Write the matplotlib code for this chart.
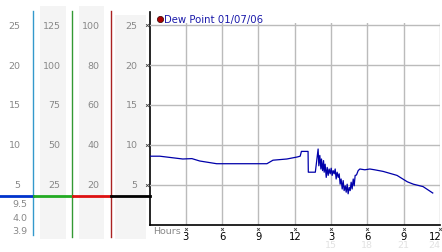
import matplotlib
matplotlib.use("Agg")
from matplotlib import pyplot as plt
from matplotlib import transforms

# dew point trace, hours since midnight
hours = [0, 0.85, 2.75, 3.5, 4.15, 5.55, 9.7, 10.2, 11.35, 12.2, 12.45, 12.55, 13.1, 13.12, 13.7,
         13.93, 13.99, 14.07, 14.16, 14.21, 14.3, 14.38, 14.43, 14.51, 14.6, 14.68, 14.76, 14.84,
         14.93, 15.01, 15.09, 15.17, 15.26, 15.34, 15.42, 15.5, 15.59, 15.67, 15.75, 15.83, 15.92,
         16.0, 16.08, 16.17, 16.25, 16.33, 16.41, 16.5, 16.58, 16.66, 16.74, 16.83, 16.91, 16.99,
         17.1, 17.24, 17.38, 17.79, 18.2, 18.6, 19.3, 20.45, 21.3, 21.8, 22.6, 23.0, 23.4]
dew = [8.6, 8.6, 8.25, 8.3, 8.0, 7.66, 7.66, 8.1, 8.25, 8.5, 8.6, 9.2, 9.2, 6.6, 6.6,
       9.5, 7.4, 8.7, 7.0, 8.25, 6.8, 8.05, 6.6, 7.6, 5.95, 7.2, 6.2, 7.0,
       6.4, 7.1, 6.2, 6.8, 6.4, 7.0, 5.75, 6.6, 5.95, 6.4, 5.1, 5.75, 4.5,
       5.55, 4.3, 4.9, 4.1, 5.1, 3.9, 4.7, 4.3, 5.35, 4.5, 5.75, 4.9, 6.2,
       6.25, 6.8, 7.0, 6.9, 7.0, 6.9, 6.7, 6.2, 5.4, 5.1, 4.8, 4.4, 4.0]

xticks = [3, 6, 9, 12, 15, 18, 21, 24]
xlabels = ["3", "6", "9", "12", "3", "6", "9", "12"]
xlabels2 = ["15", "18", "21", "24"]
yticks = [5, 10, 15, 20, 25]

# left-hand scale columns
col1 = ["5", "10", "15", "20", "25"]
col2 = ["25", "50", "75", "100", "125"]
col3 = ["20", "40", "60", "80", "100"]
col4 = ["5", "10", "15", "20", "25"]
col1_low = ["9.5", "4.0", "3.9"]

W, H = 442, 253
fig = plt.figure(figsize=(W / 100, H / 100), dpi=100)
fig.patch.set_facecolor("white")

# overlay axes in pixel coordinates for the side panel
bg = fig.add_axes([0, 0, 1, 1])
bg.set_xlim(0, W)
bg.set_ylim(H, 0)
bg.axis("off")

for x0, x1, y0 in [(40, 66, 7), (79, 104, 7), (115, 146, 16)]:
    bg.fill_between([x0, x1], y0, 240, color="#f4f4f4", lw=0)

bg.plot([33, 33], [12, 236], color="#3399cc", lw=1)
bg.plot([72, 72], [12, 238], color="#339933", lw=1)
bg.plot([111, 111], [12, 238], color="#aa2222", lw=1)
bg.plot([149.5, 149.5], [13, 226], color="black", lw=1.2)

bg.plot([0, 33], [197, 197], color="#0033cc", lw=2)
bg.plot([34, 72], [197, 197], color="#22aa22", lw=2)
bg.plot([73, 111], [197, 197], color="#dd1111", lw=2)
bg.plot([111, 149.5], [197, 197], color="black", lw=2)

gray = "#888888"
for i, v in enumerate(yticks):
    py = 226 - v * 8
    bg.text(20.5, py, col1[i], ha="right", va="center", fontsize=6.8, color=gray)
    bg.text(60.5, py, col2[i], ha="right", va="center", fontsize=6.8, color=gray)
    bg.text(99.5, py, col3[i], ha="right", va="center", fontsize=6.8, color=gray)
    bg.text(137.5, py, col4[i], ha="right", va="center", fontsize=6.8, color=gray)
    bg.plot(147, py, marker="x", ms=2, mew=0.6, color="#444444")
for i, lab in enumerate(col1_low):
    bg.text(27.5, 205 + i * 13.5, lab, ha="right", va="center", fontsize=6.8, color=gray)

# legend
bg.plot(160, 20, "o", ms=4.5, mfc="#aa0000", mec="#330000", mew=0.5)
bg.text(164, 20, "Dew Point 01/07/06", ha="left", va="center", fontsize=7.3, color="#1a1aaa")

# main chart
ax = fig.add_axes([149.5 / W, 1 - 226 / H, (440 - 149.5) / W, (226 - 24) / H])
ax.patch.set_alpha(0)
ax.set_xlim(0, 24)
ax.set_ylim(0, 25.25)
ax.set_xticks(xticks)
ax.set_yticks(yticks)
ax.grid(True, color="#bbbbbb", lw=1)
ax.tick_params(length=0, labelleft=False, labelbottom=False)
for s in ["top", "right", "left"]:
    ax.spines[s].set_visible(False)
ax.spines["bottom"].set_linewidth(1.2)

ax.plot(hours, dew, color="#0000aa", lw=0.9)

mark_shift = ax.transData + transforms.ScaledTranslation(0, -3.5 / 100, fig.dpi_scale_trans)
for t, lab in zip(xticks, xlabels):
    last = t == xticks[-1]
    ax.annotate(lab, (t, 0), xytext=(1.2 if last else 0, -7.6), textcoords="offset points",
                ha="right" if last else "center", va="center", fontsize=7.2, color="black",
                annotation_clip=False)
    ax.plot(t, 0, marker="x", ms=2, mew=0.6, color="#444444", clip_on=False, transform=mark_shift)
for t, lab in zip(xticks[4:], xlabels2):
    last = t == xticks[-1]
    ax.annotate(lab, (t, 0), xytext=(0.5 if last else 0, -14), textcoords="offset points",
                ha="right" if last else "center", va="center", fontsize=6.8, color="#e2e2e2",
                annotation_clip=False)

bg.text(153, 232, "Hours", ha="left", va="center", fontsize=6.8, color=gray)

fig.savefig("out.png", dpi=100)
